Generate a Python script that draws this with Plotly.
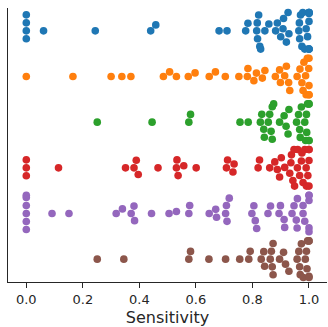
import numpy as np
import plotly.graph_objects as go

# ---- data ----
groups = ["G1", "G2", "G3", "G4", "G5", "G6"]
colors = ["#1f77b4", "#ff7f0e", "#2ca02c", "#d62728", "#9467bd", "#8c564b"]

blue = [0, 0, 0, 0, 0.061, 0.244, 0.440, 0.458, 0.682, 0.710, 0.776, 0.784, 0.815, 0.817,
        0.818, 0.822, 0.826, 0.829, 0.844, 0.858, 0.882, 0.888, 0.900, 0.908, 0.910, 0.920,
        0.926, 0.929, 0.964, 0.966, 0.967, 0.970, 0.975, 0.978, 0.985, 0.990, 0.995,
        1, 1, 1, 1, 1, 1, 1, 1]
orange = [0, 0.165, 0.300, 0.338, 0.370, 0.485, 0.507, 0.531, 0.573, 0.597, 0.647, 0.669,
          0.704, 0.752, 0.782, 0.784, 0.805, 0.814, 0.835, 0.844, 0.881, 0.896, 0.899, 0.914,
          0.920, 0.928, 0.932, 0.958, 0.968, 0.975, 0.979, 0.982, 0.988, 0.990, 0.994, 0.999,
          1, 1, 1, 1]
green = [0.251, 0.445, 0.575, 0.581, 0.756, 0.785, 0.828, 0.833, 0.840, 0.842, 0.856, 0.861,
         0.866, 0.870, 0.870, 0.875, 0.896, 0.912, 0.919, 0.926, 0.929, 0.956, 0.963, 0.967,
         0.969, 0.973, 0.985, 0.988, 0.991, 0.992, 0.995, 1, 1, 1, 1]
red = [0, 0, 0, 0.114, 0.351, 0.381, 0.389, 0.396, 0.466, 0.531, 0.533, 0.537, 0.557, 0.601,
       0.708, 0.712, 0.731, 0.735, 0.820, 0.825, 0.861, 0.879, 0.888, 0.896, 0.902, 0.914,
       0.932, 0.936, 0.938, 0.943, 0.947, 0.949, 0.959, 0.967, 0.973, 0.979, 0.985, 0.991,
       0.960, 0.975, 0.990, 0.996, 1, 1, 1, 1]
purple = [0, 0, 0, 0, 0, 0, 0.091, 0.151, 0.318, 0.340, 0.371, 0.381, 0.383, 0.443, 0.505,
          0.531, 0.575, 0.578, 0.647, 0.670, 0.673, 0.705, 0.708, 0.710, 0.718, 0.798, 0.805,
          0.810, 0.815, 0.855, 0.864, 0.894, 0.899, 0.912, 0.914, 0.940, 0.947, 0.955, 0.958,
          0.959, 0.979, 0.979, 0.985, 1, 1, 1, 1, 1]
brown = [0.251, 0.345, 0.575, 0.581, 0.646, 0.705, 0.755, 0.787, 0.792, 0.831, 0.840, 0.843,
         0.863, 0.867, 0.870, 0.873, 0.873, 0.896, 0.910, 0.917, 0.929, 0.958, 0.964, 0.967,
         0.969, 0.973, 0.987, 0.991, 0.993, 0.980, 0.995, 1, 1, 1, 1]
series = [blue, orange, green, red, purple, brown]

x_ticks = [0.0, 0.2, 0.4, 0.6, 0.8, 1.0]
x_ticktext = ["0.0", "0.2", "0.4", "0.6", "0.8", "1.0"]

# ---- layout geometry ----
W, H = 328, 327
ML, MR, MT, MB = 8, 1, 8, 45
XR = [-0.0647, 1.0637]
YR = [5.5, -0.5]
plot_w = W - ML - MR
plot_h = H - MT - MB
px_per_x = plot_w / (XR[1] - XR[0])
px_per_cat = plot_h / (YR[0] - YR[1])
D = 7.6  # marker diameter in px


def beeswarm(vals):
    """seaborn-like swarm: returns offsets (category units) along category axis."""
    xs_all = np.asarray(vals, float) * px_per_x
    order = np.argsort(xs_all, kind="mergesort")
    offs = np.zeros(len(xs_all))
    placed = []
    for idx in order:
        x = xs_all[idx]
        neigh = [(px, po) for (px, po) in placed if x - px < D]
        cands = [0.0]
        left_first = True
        for px, po in neigh:
            dy = np.sqrt(max(D * D - (x - px) ** 2, 0)) * 1.05
            cands.extend([po - dy, po + dy] if left_first else [po + dy, po - dy])
            left_first = not left_first
        cands = sorted(cands, key=abs)
        chosen = cands[0]
        for c in cands:
            if all((x - px) ** 2 + (c - po) ** 2 >= D * D - 1e-6 for px, po in neigh):
                chosen = c
                break
        placed.append((x, chosen))
        offs[idx] = chosen
    lim = 0.4 * px_per_cat
    return np.clip(offs, -lim, lim) / px_per_cat


fig = go.Figure()
for i, (name, vals, col) in enumerate(zip(groups, series, colors)):
    off = beeswarm(vals)
    fig.add_trace(go.Scatter(
        x=vals, y=i + off, mode="markers", name=name,
        marker=dict(color=col, size=D, line=dict(width=0)),
        showlegend=False, hoverinfo="x", cliponaxis=False,
    ))

axis_col = "#262626"
fig.update_layout(
    width=W, height=H,
    margin=dict(l=ML, r=MR, t=MT, b=MB, autoexpand=False),
    paper_bgcolor="white", plot_bgcolor="white",
    font=dict(family="DejaVu Sans", color=axis_col, size=13),
    xaxis=dict(range=XR, tickvals=x_ticks, ticktext=x_ticktext, ticks="outside",
               ticklen=5, tickwidth=1.25, tickcolor=axis_col, showline=True,
               linecolor=axis_col, linewidth=1.25, showgrid=False, zeroline=False,
               automargin=False,
               title=dict(text="Sensitivity", font=dict(size=16)),
               tickfont=dict(size=13)),
    yaxis=dict(range=YR, showticklabels=False, ticks="", showline=True,
               linecolor=axis_col, linewidth=1.25, showgrid=False, zeroline=False,
               automargin=False),
)
fig.write_html(
    "out.html",
    config={"displayModeBar": False},
    post_script="document.body.style.margin='0';document.body.style.overflow='hidden';",
)
